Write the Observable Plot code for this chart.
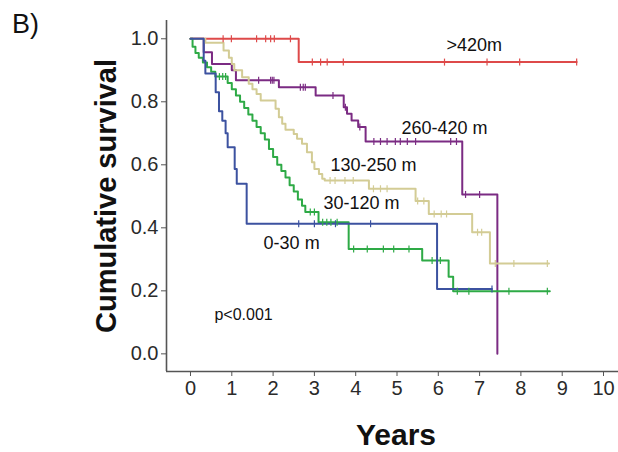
<!DOCTYPE html>
<html>
<head>
<meta charset="utf-8">
<script src="https://cdn.jsdelivr.net/npm/d3@7"></script>
<script src="https://cdn.jsdelivr.net/npm/@observablehq/plot@0.6"></script>
<style>
  html, body { margin: 0; padding: 0; background: #fff; }
  #chart svg { display: block; }
</style>
</head>
<body>
<div id="chart"></div>
<script>
// ---- Data ----
const groups = [">420m", "260-420 m", "130-250 m", "30-120 m", "0-30 m"];
const colors = ["#de4a4a", "#7b2b83", "#d3cc95", "#2eaa46", "#3c52a0"];

// Kaplan–Meier step points: times (years) and survival
const t420 = [0, 2.62, 9.35];
const s420 = [1, 0.926, 0.926];
const c420 = [0.79, 0.99, 1.6, 1.82, 1.94, 2.03, 2.42, 2.95, 3.15, 3.31, 3.7, 6.15, 7.18, 7.97, 9.35];

const t260 = [0, 0.32, 0.52, 1.0, 1.1, 2.14, 3.03, 3.71, 3.79, 3.9, 4.06, 4.24, 6.58, 7.43];
const s260 = [1, 0.957, 0.92, 0.9, 0.868, 0.846, 0.82, 0.783, 0.762, 0.741, 0.72, 0.674, 0.506, 0];
const c260 = [1.65, 1.94, 1.98, 2.02, 2.66, 2.73, 2.78, 3.45, 3.75, 4.1, 4.44, 4.6, 4.76, 4.96, 5.08, 5.25, 5.45, 6.3, 6.44, 6.66, 7.0];

const t130 = [0, 0.36, 0.8, 0.93, 1.0, 1.06, 1.25, 1.41, 1.5, 1.6, 1.7, 2.06, 2.14, 2.22, 2.3, 2.5, 2.58, 2.7, 2.82, 2.94, 3.0, 3.11, 3.19, 3.25, 4.32, 5.45, 5.77, 6.82, 7.25, 8.68];
const s130 = [1, 0.987, 0.963, 0.94, 0.92, 0.9, 0.878, 0.857, 0.84, 0.825, 0.804, 0.778, 0.751, 0.73, 0.711, 0.698, 0.683, 0.667, 0.64, 0.608, 0.587, 0.571, 0.556, 0.55, 0.524, 0.485, 0.444, 0.386, 0.287, 0.287];
const c130 = [3.38, 3.5, 3.74, 3.94, 4.43, 4.6, 4.76, 5.5, 5.65, 5.9, 6.07, 6.2, 6.95, 7.05, 7.38, 7.83, 8.64];

const t30 = [0, 0.05, 0.12, 0.2, 0.3, 0.4, 0.5, 0.6, 0.9, 1.0, 1.1, 1.2, 1.3, 1.4, 1.5, 1.6, 1.7, 1.8, 1.9, 2.0, 2.1, 2.2, 2.3, 2.4, 2.5, 2.6, 2.7, 2.78, 3.1, 3.83, 5.61, 6.25, 6.36, 8.7];
const s30 = [1, 0.975, 0.955, 0.94, 0.925, 0.91, 0.895, 0.88, 0.86, 0.84, 0.82, 0.8, 0.78, 0.76, 0.74, 0.72, 0.7, 0.68, 0.65, 0.625, 0.6, 0.58, 0.56, 0.535, 0.515, 0.49, 0.47, 0.45, 0.418, 0.333, 0.296, 0.245, 0.199, 0.199];
const c30 = [0.7, 0.78, 0.85, 2.9, 3.0, 3.2, 3.3, 3.4, 3.55, 3.95, 4.28, 4.67, 4.92, 5.29, 5.85, 6.05, 6.46, 6.74, 7.71, 8.64];

const t0 = [0, 0.32, 0.36, 0.61, 0.69, 0.77, 0.85, 0.9, 1.07, 1.12, 1.36, 5.97, 7.3];
const s0 = [1, 0.93, 0.89, 0.83, 0.77, 0.74, 0.7, 0.656, 0.587, 0.54, 0.413, 0.206, 0.206];
const c0 = [2.62, 3.0, 3.51, 4.36, 7.3];

const xTicks = [0, 1, 2, 3, 4, 5, 6, 7, 8, 9, 10];
const yTicks = [0, 0.2, 0.4, 0.6, 0.8, 1.0];

// Curve labels (data coordinates)
const labelText = [">420m", "260-420 m", "130-250 m", "30-120 m", "0-30 m", "p<0.001"];
const labelX = [6.2, 5.11, 3.39, 3.22, 1.77, 0.58];
const labelY = [0.979, 0.715, 0.598, 0.477, 0.35, 0.125];

// ---- Build tables ----
const series = [[t420, s420, c420], [t260, s260, c260], [t130, s130, c130], [t30, s30, c30], [t0, s0, c0]];
const lineRows = [];
const censorRows = [];
series.forEach(([ts, ss, cs], i) => {
  ts.forEach((t, j) => lineRows.push({group: groups[i], t, s: ss[j]}));
  cs.forEach(ct => {
    let s = ss[0];
    for (let j = 0; j < ts.length; j++) if (ts[j] <= ct + 1e-9) s = ss[j];
    censorRows.push({group: groups[i], t: ct, s});
  });
});
const labels = labelText.map((text, i) => ({text, x: labelX[i], y: labelY[i]}));

const vtick = {
  draw(context, size) {
    const r = Math.sqrt(size / Math.PI);
    context.moveTo(0, -r);
    context.lineTo(0, r);
  }
};

const xDomain = [-0.581, 10.363];
const yDomain = [-0.056, 1.058];
const font = "'Liberation Sans', Arial, sans-serif";

const chart = Plot.plot({
  width: 618,
  height: 452,
  marginLeft: 166,
  marginRight: 0,
  marginTop: 20,
  marginBottom: 81,
  style: {fontFamily: font, background: "#fff", color: "#222"},
  x: {domain: xDomain},
  y: {domain: yDomain},
  color: {domain: groups, range: colors},
  marks: [
    Plot.axisX({ticks: xTicks, tickSize: 5, tickPadding: 4, fontSize: 20, label: null, stroke: "#555", fill: "#2a2a2a"}),
    Plot.axisY({ticks: yTicks, tickFormat: ".1f", tickSize: 5, tickPadding: 3, fontSize: 20, label: null, stroke: "#555", fill: "#2a2a2a"}),
    Plot.ruleX([xDomain[0]], {stroke: "#555", strokeWidth: 1.6}),
    Plot.ruleY([yDomain[0]], {stroke: "#555", strokeWidth: 1.6}),
    Plot.line(lineRows, {x: "t", y: "s", z: "group", stroke: "group", curve: "step-after", strokeWidth: 2}),
    Plot.dot(censorRows, {x: "t", y: "s", stroke: "group", symbol: vtick, r: 3.5, strokeWidth: 1.2}),
    Plot.text(labels, {x: "x", y: "y", text: "text", textAnchor: "start", fontSize: (d) => d.text === "p<0.001" ? 16 : 18, fill: "#111"})
  ]
});

const svg = d3.select(chart);
svg.append("text")
  .attr("x", 12).attr("y", 33)
  .attr("text-anchor", "start")
  .attr("font-family", font).attr("font-size", 27).attr("fill", "#111")
  .text("B)");
svg.append("text")
  .attr("transform", "translate(116,196) rotate(-90)")
  .attr("text-anchor", "middle")
  .attr("font-family", font).attr("font-size", 29).attr("font-weight", "bold").attr("fill", "#111")
  .text("Cumulative survival");
svg.append("text")
  .attr("x", 396).attr("y", 445)
  .attr("text-anchor", "middle")
  .attr("font-family", font).attr("font-size", 30).attr("font-weight", "bold").attr("fill", "#111")
  .text("Years");

document.getElementById("chart").appendChild(chart);
</script>
</body>
</html>
